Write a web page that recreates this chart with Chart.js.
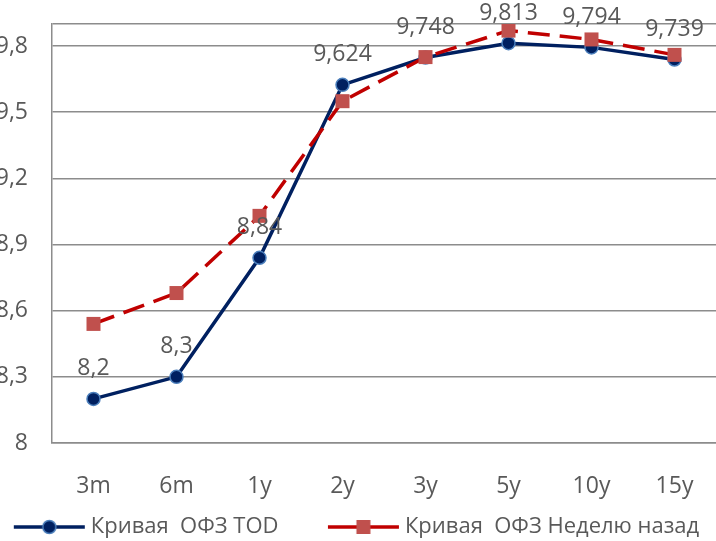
<!DOCTYPE html>
<html>
<head>
<meta charset="utf-8">
<script src="https://cdn.jsdelivr.net/npm/chart.js@4"></script>
<style>
html,body{margin:0;padding:0;background:#fff;overflow:hidden;}
#wrap{position:absolute;left:0;top:0;width:716px;height:541px;}
</style>
</head>
<body>
<div id="wrap"><canvas id="c" width="716" height="541"></canvas></div>
<script>
const categories = ['3m', '6m', '1y', '2y', '3y', '5y', '10y', '15y'];
const todValues = [8.2, 8.3, 8.84, 9.624, 9.748, 9.813, 9.794, 9.739];
const weekAgoValues = [8.54, 8.68, 9.03, 9.55, 9.75, 9.87, 9.83, 9.76];
const yTickValues = [8, 8.3, 8.6, 8.9, 9.2, 9.5, 9.8];
const yMin = 8;
const yMax = 9.9;
const seriesNames = ['Кривая  ОФЗ TOD', 'Кривая  ОФЗ Неделю назад'];

const FONT = "'Open Sans', 'Noto Sans', sans-serif";
const TEXT = '#595959';
const GRID = '#8c8c8c';
const BLUE = '#002060';
const BLUE_EDGE = '#4a7ebb';
const RED_LINE = '#c00000';
const RED_MARK = '#c0504d';

function fmt(v) { return String(v).replace('.', ','); }

function legendIcon(kind) {
  const c = document.createElement('canvas');
  c.width = 80; c.height = 20;
  const g = c.getContext('2d');
  g.lineWidth = 3.5;
  g.strokeStyle = kind === 0 ? BLUE : RED_LINE;
  g.beginPath(); g.moveTo(4, 10); g.lineTo(75, 10); g.stroke();
  if (kind === 0) {
    g.beginPath(); g.arc(39.5, 10, 6.5, 0, Math.PI * 2);
    g.fillStyle = BLUE; g.fill();
    g.lineWidth = 1.5; g.strokeStyle = BLUE_EDGE; g.stroke();
  } else {
    g.fillStyle = RED_MARK; g.fillRect(32.5, 3, 14, 14);
  }
  return c;
}

const dataLabelPlugin = {
  id: 'dataLabels',
  afterDatasetsDraw(chart) {
    const meta = chart.getDatasetMeta(0);
    const ctx = chart.ctx;
    ctx.save();
    ctx.font = '23px ' + FONT;
    ctx.fillStyle = TEXT;
    ctx.textAlign = 'center';
    ctx.textBaseline = 'middle';
    meta.data.forEach((pt, i) => {
      ctx.fillText(fmt(todValues[i]), pt.x, pt.y - 30);
    });
    ctx.restore();
  }
};

Chart.defaults.font.family = FONT;
Chart.defaults.color = TEXT;

new Chart(document.getElementById('c'), {
  type: 'line',
  data: {
    labels: categories,
    datasets: [
      {
        label: seriesNames[0],
        data: todValues,
        borderColor: BLUE,
        borderWidth: 3.5,
        pointRadius: 6.5,
        pointBackgroundColor: BLUE,
        pointBorderColor: BLUE_EDGE,
        pointBorderWidth: 1.5,
        tension: 0,
        order: 1
      },
      {
        label: seriesNames[1],
        data: weekAgoValues,
        borderColor: RED_LINE,
        borderWidth: 3.5,
        borderDash: [22, 10],
        pointStyle: 'rect',
        pointRadius: 9.9,
        pointBackgroundColor: RED_MARK,
        pointBorderColor: RED_MARK,
        pointBorderWidth: 0,
        tension: 0,
        order: 0
      }
    ]
  },
  options: {
    responsive: false,
    devicePixelRatio: 1,
    animation: false,
    layout: { autoPadding: false, padding: { top: 24, right: -3, left: 0, bottom: -7 } },
    plugins: {
      tooltip: { enabled: false },
      legend: {
        position: 'bottom',
        labels: {
          usePointStyle: true,
          pointStyleWidth: 60,
          padding: 4,
          font: { size: 22, family: FONT },
          color: TEXT,
          generateLabels(chart) {
            return seriesNames.map((n, i) => ({
              text: i === 0 ? n + '         ' : n,
              pointStyle: legendIcon(i),
              datasetIndex: i,
              hidden: false,
              fillStyle: 'transparent',
              strokeStyle: 'transparent',
              lineWidth: 0,
              fontColor: TEXT
            }));
          }
        }
      }
    },
    scales: {
      x: {
        offset: true,
        afterFit(scale) { scale.height = 69; scale.paddingLeft = 0; scale.paddingRight = 0; },
        grid: { display: false, drawTicks: false },
        border: { display: true, color: GRID, width: 1.5 },
        ticks: { padding: 30, font: { size: 23 }, color: TEXT, maxRotation: 0 }
      },
      y: {
        min: yMin,
        max: yMax,
        afterFit(scale) { scale.width = 52; scale.paddingTop = 0; scale.paddingBottom = 0; },
        afterBuildTicks(scale) {
          scale.ticks = yTickValues.concat([yMax]).map(v => ({ value: v }));
        },
        grid: { color: GRID, lineWidth: 1.5, drawTicks: false },
        border: { display: true, color: GRID, width: 1.5 },
        ticks: {
          padding: 24,
          font: { size: 23 },
          color: TEXT,
          callback(v) { return yTickValues.includes(v) ? fmt(v) : ''; }
        }
      }
    }
  },
  plugins: [dataLabelPlugin]
});
</script>
</body>
</html>
